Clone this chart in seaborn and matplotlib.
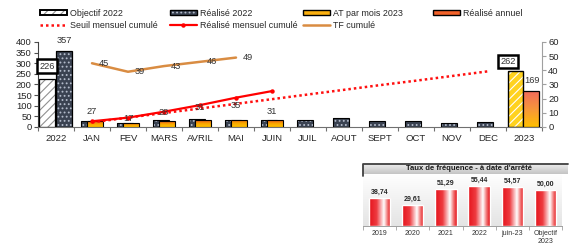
import numpy as np
import matplotlib
matplotlib.use("Agg")
import matplotlib.pyplot as plt
import seaborn as sns
from matplotlib.colors import LinearSegmentedColormap
from matplotlib.patches import Patch, Rectangle
from matplotlib.lines import Line2D
from matplotlib.legend_handler import HandlerTuple

# ---------------------------------------------------------------------------
# Data
# ---------------------------------------------------------------------------
categories = ["2022", "JAN", "FEV", "MARS", "AVRIL", "MAI", "JUIN",
              "JUIL", "AOUT", "SEPT", "OCT", "NOV", "DEC", "2023"]
objectif_2022 = 226
realise_2022 = 357
realise_2022_mois = [28, 21, 31, 36, 31, 31, 35, 44, 28, 30, 18, 24]
at_2023_mois = [27, 17, 28, 31, 35, 31]
realise_cumul = [27, 44, 72, 103, 138, 169]
seuil_cumul = [22, 44, 66, 87, 109, 131, 153, 175, 197, 218, 240, 262]
tf_cumul = [45, 39, 43, 46, 49]
objectif_2023 = 262
realise_annuel = 169

tf_years = ["2019", "2020", "2021", "2022", "juin-23", "Objectif\n2023"]
tf_values = [38.74, 29.61, 51.29, 55.44, 54.57, 50.00]

# label heights for the monthly AT values (layout only)
at_label_y = [75, 42, 66, 94, 99, 71]

# ---------------------------------------------------------------------------
# Style
# ---------------------------------------------------------------------------
sns.set_theme(style="white")
plt.rcParams["font.family"] = ["Liberation Sans", "DejaVu Sans"]
plt.rcParams["hatch.linewidth"] = 0.8

W_PX, H_PX = 572, 246
FS = 6.4
fig = plt.figure(figsize=(W_PX / 100, H_PX / 100), dpi=100)


def px_box(x0, y0, x1, y1):
    return [x0 / W_PX, 1 - y1 / H_PX, (x1 - x0) / W_PX, (y1 - y0) / H_PX]


def gradient_fill(axis, patch, colors, horizontal=False):
    cmap = LinearSegmentedColormap.from_list("g", colors)
    x0, y0 = patch.get_x(), patch.get_y()
    w, h = patch.get_width(), patch.get_height()
    grad = np.linspace(0, 1, 256)
    grad = grad.reshape(1, -1) if horizontal else grad.reshape(-1, 1)
    im = axis.imshow(grad, cmap=cmap, extent=[x0, x0 + w, y0, y0 + h],
                     origin="lower", aspect="auto", interpolation="bilinear",
                     zorder=patch.get_zorder() - 0.01)
    im.set_clip_path(patch)
    patch.set_facecolor("none")


AT_COLORS = ["#FFC000", "#F8A800", "#E8501A"]
ANNUEL_COLORS = ["#FFC000", "#F7963A", "#F26B5B"]
DOT_FACE, DOT_HATCH = "#3a4251", "#b4bccb"

ax = fig.add_axes(px_box(38, 42, 542, 127))
ax2 = ax.twinx()

W = 0.44
x_months = np.arange(1, 13)

# 2022 bars
ax.bar(-0.25, objectif_2022, W, color="white", edgecolor="#909090",
       hatch="////", lw=0, zorder=2)
ax.bar(-0.25, objectif_2022, W, fill=False, edgecolor="black", lw=0.9, zorder=3)
ax.bar(0.22, realise_2022, W, color=DOT_FACE, edgecolor=DOT_HATCH,
       hatch="....", lw=0, zorder=2)
ax.bar(0.22, realise_2022, W, fill=False, edgecolor="black", lw=0.9, zorder=3)

# monthly 2022 bars
ax.bar(x_months - 0.08, realise_2022_mois, W, color=DOT_FACE,
       edgecolor=DOT_HATCH, hatch="....", lw=0, zorder=2)
ax.bar(x_months - 0.08, realise_2022_mois, W, fill=False,
       edgecolor="black", lw=0.8, zorder=3)

# monthly AT 2023 bars
x_at = np.arange(1, len(at_2023_mois) + 1)
at_bars = ax.bar(x_at + 0.08, at_2023_mois, W, edgecolor="black", lw=0.8, zorder=4)
for p in at_bars:
    gradient_fill(ax, p, AT_COLORS)

# 2023 bars
ax.bar(12.77, objectif_2023, 0.43, color="#FFD21F", edgecolor="white",
       hatch="////", lw=0, zorder=2)
ax.bar(12.77, objectif_2023, 0.43, fill=False, edgecolor="black", lw=1.0, zorder=3)
annuel = ax.bar(13.2, realise_annuel, 0.43, edgecolor="black", lw=0.9, zorder=4)
gradient_fill(ax, annuel[0], ANNUEL_COLORS)

# lines
sns.lineplot(x=np.arange(1, len(seuil_cumul) + 1), y=seuil_cumul, ax=ax,
             color="#FF1010", lw=1.8, linestyle=(0, (1, 1.2)), zorder=5)
sns.lineplot(x=np.arange(1, len(realise_cumul) + 1), y=realise_cumul, ax=ax,
             color="#FF0000", lw=1.6, marker="o", markersize=3.2,
             markeredgewidth=0, zorder=6)
sns.lineplot(x=np.arange(1, len(tf_cumul) + 1), y=tf_cumul, ax=ax2,
             color="#D98C42", lw=1.8, zorder=6)

# labels
txt = dict(fontsize=FS + 0.3, color="#333333", ha="center", va="center")
for i, (v, ly) in enumerate(zip(at_2023_mois, at_label_y)):
    ax.text(i + 1, ly, str(v), zorder=7, **txt)
for i, v in enumerate(tf_cumul):
    ax2.text(i + 1.32, v, str(v), zorder=7, **txt)
ax.text(0.24, 409, str(realise_2022), clip_on=False, **txt)
ax.text(13.22, 218, str(realise_annuel), **txt)
box = dict(boxstyle="square,pad=0.22", fc="white", ec="black", lw=1.8)
ax.text(-0.25, 287, str(objectif_2022), bbox=box, zorder=8, **txt)
ax.text(12.56, 310, str(objectif_2023), bbox=box, zorder=8, clip_on=False, **txt)

# axes
ax.set_xlim(-0.5, 13.5)
ax.set_ylim(0, 400)
ax2.set_ylim(0, 60)
ax.set_yticks(np.arange(0, 401, 50))
ax2.set_yticks(np.arange(0, 61, 10))
ax.set_xticks(np.arange(len(categories)))
ax.set_xticklabels(categories)
ax.set_xticks(np.arange(-0.5, 14, 1), minor=True)
ax.tick_params(axis="x", which="major", length=0, labelsize=FS + 0.4, pad=5,
               labelcolor="#262626")
ax.tick_params(axis="x", which="minor", bottom=True, length=3, width=0.8,
               color="#707070", direction="out")
ax.tick_params(axis="y", left=True, length=3, width=0.8, color="#505050",
               labelsize=FS + 0.4, pad=1.5, labelcolor="#262626")
ax2.tick_params(axis="y", right=True, length=3, width=0.8, color="#a0a0a0",
                labelsize=FS + 0.4, pad=1.5, labelcolor="#262626")
for s in ["top", "right"]:
    ax.spines[s].set_visible(False)
for s in ["top", "left", "bottom"]:
    ax2.spines[s].set_visible(False)
ax.spines["left"].set_color("#404040")
ax.spines["bottom"].set_color("#707070")
ax2.spines["right"].set_color("#a0a0a0")
for s in ax.spines.values():
    s.set_linewidth(0.8)
ax2.spines["right"].set_linewidth(0.8)
ax.set_xlabel("")
ax.set_ylabel("")
ax2.set_ylabel("")

# ---------------------------------------------------------------------------
# Legends (one per column)
# ---------------------------------------------------------------------------
h_obj = (Patch(fc="white", ec="#909090", hatch="////", lw=0),
         Patch(fc="none", ec="black", lw=1.4))
h_real = (Patch(fc=DOT_FACE, ec=DOT_HATCH, hatch="....", lw=0),
          Patch(fc="none", ec="black", lw=1.0))
h_at = Patch(fc="#FBB010", ec="black", lw=1.0)
h_ann = Patch(fc="#F2622A", ec="black", lw=1.0)
h_seuil = Line2D([], [], color="#FF1010", lw=1.8, linestyle=(0, (1, 1.2)))
h_cum = Line2D([], [], color="#FF0000", lw=1.6, marker="o", markersize=3.2,
               markeredgewidth=0, markevery=[1])
h_tf = Line2D([], [], color="#D98C42", lw=1.8)

columns = [
    (40, [h_obj, h_seuil], ["Objectif 2022", "Seuil mensuel cumulé"]),
    (170, [h_real, h_cum], ["Réalisé 2022", "Réalisé mensuel cumulé"]),
    (303, [h_at, h_tf], ["AT par mois 2023", "TF cumulé"]),
    (433, [h_ann], ["Réalisé annuel"]),
]
for x0, hs, ls in columns:
    leg = fig.legend(hs, ls, loc="upper left",
                     bbox_to_anchor=(x0 / W_PX, 1 - 9 / H_PX),
                     frameon=False, fontsize=FS, borderpad=0, borderaxespad=0,
                     handlelength=3.0, handleheight=0.5, handletextpad=0.35,
                     labelspacing=0.35,
                     handler_map={tuple: HandlerTuple(ndivide=1, pad=0)})
    for t in leg.get_texts():
        t.set_color("#262626")

# ---------------------------------------------------------------------------
# Inset: taux de fréquence
# ---------------------------------------------------------------------------
ins = fig.add_axes(px_box(363, 174, 562, 226))
sns.barplot(x=tf_years, y=tf_values, ax=ins, color="red", saturation=1,
            width=0.64, zorder=3)
ins.set_xlim(-0.5, len(tf_years) - 0.5)
ins.set_ylim(0, 72)
bg = np.linspace(0, 1, 64).reshape(-1, 1)
ins.imshow(bg, cmap=LinearSegmentedColormap.from_list("bg", ["#e4e4e4", "#ffffff"]),
           extent=[-0.5, len(tf_years) - 0.5, 0, 72], origin="lower",
           aspect="auto", zorder=0)
red_stops = [(0, "#E5121A"), (0.35, "#EE3B40"), (0.68, "#FFFFFF"),
             (0.86, "#F06A6A"), (1, "#E5121A")]
for p in ins.patches:
    gradient_fill(ins, p, red_stops, horizontal=True)
for i, v in enumerate(tf_values):
    ins.text(i, v + 3, f"{v:.2f}".replace(".", ","), ha="center", va="bottom",
             fontsize=5, fontweight="bold", color="#262626")
ins.set_xlim(-0.5, len(tf_years) - 0.5)
ins.set_ylim(0, 72)
ins.set_yticks([])
ins.set_xticks(np.arange(-0.5, len(tf_years), 1), minor=True)
ins.tick_params(axis="x", which="major", length=0, labelsize=5, pad=3,
                labelcolor="#333333")
ins.tick_params(axis="x", which="minor", bottom=True, length=3, width=0.6,
                color="#a0a0a0")
for s in ["top", "left", "right"]:
    ins.spines[s].set_visible(False)
ins.spines["bottom"].set_color("#a0a0a0")
ins.spines["bottom"].set_linewidth(0.7)
ins.set_xlabel("")
ins.set_ylabel("")

title_bg = np.linspace(0, 1, 64).reshape(-1, 1)
tax = fig.add_axes(px_box(363, 164, 568, 174))
tax.imshow(title_bg, cmap=LinearSegmentedColormap.from_list("tb", ["#c4c4c4", "#ececec"]),
           extent=[0, 1, 0, 1], origin="lower", aspect="auto")
tax.set_xlim(0, 1)
tax.set_ylim(0, 1)
tax.axis("off")
fig.lines.append(Line2D([363 / W_PX, 363 / W_PX, 568 / W_PX],
                        [1 - 176 / H_PX, 1 - 164 / H_PX, 1 - 164 / H_PX],
                        transform=fig.transFigure, color="#404040", lw=1.3))
fig.text(469 / W_PX, 1 - 169 / H_PX, "Taux de fréquence - à date d'arrêté",
         ha="center", va="center", fontsize=5.5, fontweight="bold", color="#1a1a1a")

fig.savefig("out.png", dpi=100)
